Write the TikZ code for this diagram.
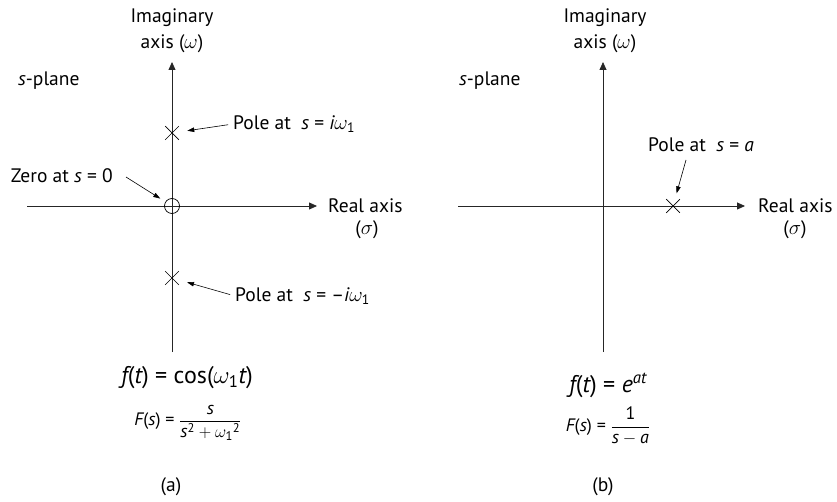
\documentclass[tikz,border=0pt]{standalone}
\usepackage{amsmath}
\usepackage{fontspec}
\setmainfont{PT Sans}
\usetikzlibrary{arrows.meta,shapes.misc}
\newcommand{\vi}[1]{\text{\itshape #1}}
\begin{document}
\begin{tikzpicture}[x=1pt,y=-1pt,
 axis/.style={line width=0.8pt, draw=black!85, -{Triangle[length=8pt,width=7pt]}},
 note/.style={line width=0.6pt, -{Triangle[length=7pt,width=4.5pt]}},
 pole/.style={draw, cross out, minimum size=13pt, inner sep=0pt, line width=0.7pt},
 zerom/.style={draw, circle, minimum size=15pt, inner sep=0pt, line width=0.7pt},
 lbl/.style={font=\fontsize{19.5}{23}\selectfont, inner sep=0pt},
 eqbig/.style={font=\fontsize{24}{28}\selectfont, inner sep=0pt},
 eqsmall/.style={font=\fontsize{18}{22}\selectfont, inner sep=0pt},
]
\useasboundingbox (0,0) rectangle (837,502);
% ---------- (a) ----------
\coordinate (aL) at (27,206); \coordinate (aR) at (317,206);
\coordinate (aT) at (172,62); \coordinate (aB) at (172,352);
\draw[axis] (aL) -- (aR);
\draw[axis] (aB) -- (aT);
\node[zerom] (z1) at (172,206) {};
\node[pole] (p1) at (172,133) {};
\node[pole] (p2) at (172,278) {};
\node[lbl] (im1) at (172,18) {Imaginary};
\node[lbl] (ax1) at (172,44) {axis ($\omega$)};
\node[lbl, anchor=west] (sp1) at (18,81) {\textit{s}-plane};
\node[lbl, anchor=west] (pl1) at (233,124) {Pole at\ \ \vi{s} = \vi{i}$\omega_{\text{1}}$};
\node[lbl, anchor=west] (pl2) at (235,296) {Pole at\ \ \vi{s} = –\vi{i}$\omega_{\text{1}}$};
\node[lbl, anchor=east] (zl) at (113,176) {Zero at \vi{s} = 0};
\node[lbl, anchor=west] (re1) at (328,206) {Real axis};
\node[lbl] (sg1) at (367,230) {($\sigma$)};
\coordinate (za) at (126,177);
\draw[note, shorten >=6pt] (za) -- (z1);
\draw[note, shorten <=5pt, shorten >=8.5pt] (pl1.west) -- (p1);
\draw[note, shorten <=5pt, shorten >=8.5pt] (pl2.west) -- (p2);
\node[eqbig] (f1) at (187,378) {\vi{f}(\vi{t}) = cos($\omega_{\text{1}}$\vi{t})};
\node[eqsmall] (F1) at (188,423) {\vi{F}(\vi{s}) = $\dfrac{\vi{s}}{\vi{s}^{\text{2}}+\omega_{\text{1}}{}^{\text{2}}}$};
\node[lbl] (ca) at (171,487) {(a)};
% ---------- (b) ----------
\coordinate (bL) at (458,206); \coordinate (bR) at (745,206);
\coordinate (bT) at (603,62); \coordinate (bB) at (603,352);
\draw[axis] (bL) -- (bR);
\draw[axis] (bB) -- (bT);
\node[pole] (p3) at (673,206) {};
\node[lbl] (im2) at (605,18) {Imaginary};
\node[lbl] (ax2) at (605,44) {axis ($\omega$)};
\node[lbl, anchor=west] (sp2) at (459,81) {\textit{s}-plane};
\node[lbl, anchor=west] (pl3) at (648,145) {Pole at\ \ \vi{s} = \vi{a}};
\node[lbl, anchor=west] (re2) at (758,206) {Real axis};
\node[lbl] (sg2) at (795,230) {($\sigma$)};
\coordinate (pa) at (686,160);
\draw[note, shorten >=6pt] (pa) -- (p3);
\node[eqbig] (f2) at (608,385) {\vi{f}(\vi{t}) = \vi{e}\textsuperscript{\itshape at}};
\node[eqsmall] (F2) at (608,426) {\vi{F}(\vi{s}) = $\dfrac{\text{1}}{\vi{s}-\vi{a}}$};
\node[lbl] (cb) at (603,487) {(b)};
\end{tikzpicture}
\end{document}
